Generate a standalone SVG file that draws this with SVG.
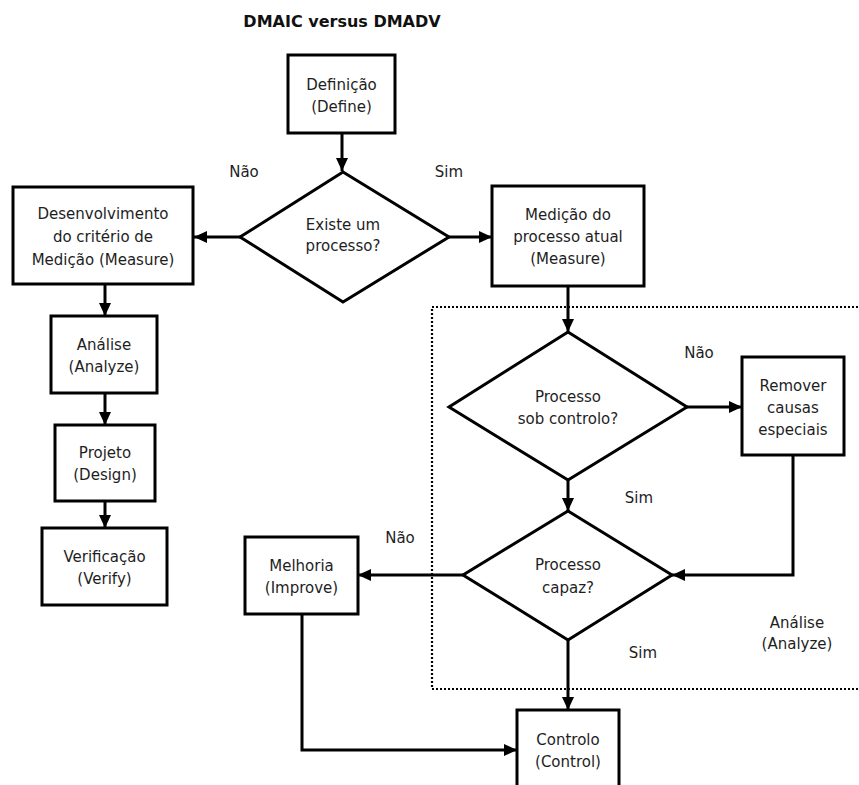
<svg xmlns="http://www.w3.org/2000/svg" width="859" height="785" viewBox="0 0 859 785">
  <defs>
    <marker id="arrow" markerUnits="userSpaceOnUse" markerWidth="14" markerHeight="12" refX="13" refY="6" orient="auto">
      <path d="M0,0 L13,6 L0,12 Z" fill="#000"/>
    </marker>
    <style>
      .box { fill: #fff; stroke: #000; stroke-width: 3; }
      .dec { fill: #fff; stroke: #000; stroke-width: 3; stroke-linejoin: miter; }
      .conn { fill: none; stroke: #000; stroke-width: 3; }
      .lbl { font-family: "DejaVu Sans", Verdana, sans-serif; font-size: 15px; fill: #1e1e1e; text-anchor: middle; }
      .title { font-family: "DejaVu Sans", Verdana, sans-serif; font-size: 16px; font-weight: bold; fill: #111; text-anchor: middle; }
      .region { fill: none; stroke: #000; stroke-width: 2.2; stroke-dasharray: 2 2; }
    </style>
  </defs>
  <rect width="859" height="785" fill="#fff"/>

  <text class="title" x="342" y="27">DMAIC versus DMADV</text>

  <!-- Analyze phase boundary -->
  <rect id="analyze-region" class="region" x="432" y="307" width="450" height="382"/>
  <g id="analyze-caption">
    <text class="lbl" x="797" y="628">Análise</text>
    <text class="lbl" x="797" y="649">(Analyze)</text>
  </g>

  <!-- connectors -->
  <g id="connectors">
    <path class="conn" d="M342,133 V171" marker-end="url(#arrow)"/>
    <path class="conn" d="M240,237 H194" marker-end="url(#arrow)"/>
    <path class="conn" d="M449,237 H492" marker-end="url(#arrow)"/>
    <path class="conn" d="M568,286 V332" marker-end="url(#arrow)"/>
    <path class="conn" d="M105,284 V316" marker-end="url(#arrow)"/>
    <path class="conn" d="M105,393 V425" marker-end="url(#arrow)"/>
    <path class="conn" d="M105,501 V528" marker-end="url(#arrow)"/>
    <path class="conn" d="M687,407 H742" marker-end="url(#arrow)"/>
    <path class="conn" d="M793,455 V575 H672" marker-end="url(#arrow)"/>
    <path class="conn" d="M568,480 V511" marker-end="url(#arrow)"/>
    <path class="conn" d="M463,575 H358" marker-end="url(#arrow)"/>
    <path class="conn" d="M568,640 V710" marker-end="url(#arrow)"/>
    <path class="conn" d="M302,614 V750 H517" marker-end="url(#arrow)"/>
  </g>

  <!-- branch labels -->
  <g id="branch-labels">
    <text class="lbl" x="244" y="177">Não</text>
    <text class="lbl" x="449" y="177">Sim</text>
    <text class="lbl" x="699" y="358">Não</text>
    <text class="lbl" x="639" y="503">Sim</text>
    <text class="lbl" x="400" y="543">Não</text>
    <text class="lbl" x="643" y="658">Sim</text>
  </g>

  <g id="define">
    <rect class="box" x="288" y="55" width="107" height="78"/>
    <text class="lbl" x="341.5" y="90">Definição</text>
    <text class="lbl" x="341.5" y="112">(Define)</text>
  </g>

  <g id="process-exists">
    <polygon class="dec" points="343,172 449,237 343,302 240,237"/>
    <text class="lbl" x="343" y="230">Existe um</text>
    <text class="lbl" x="343" y="251">processo?</text>
  </g>

  <g id="measure-criteria">
    <rect class="box" x="13" y="187" width="180" height="97"/>
    <text class="lbl" x="103" y="219">Desenvolvimento</text>
    <text class="lbl" x="103" y="242">do critério de</text>
    <text class="lbl" x="103" y="265">Medição (Measure)</text>
  </g>

  <g id="measure-current">
    <rect class="box" x="492" y="186" width="152" height="100"/>
    <text class="lbl" x="568" y="220">Medição do</text>
    <text class="lbl" x="568" y="242">processo atual</text>
    <text class="lbl" x="568" y="264">(Measure)</text>
  </g>

  <g id="analyze">
    <rect class="box" x="51" y="316" width="106" height="77"/>
    <text class="lbl" x="104" y="350">Análise</text>
    <text class="lbl" x="104" y="372">(Analyze)</text>
  </g>

  <g id="design">
    <rect class="box" x="55" y="425" width="100" height="76"/>
    <text class="lbl" x="105" y="458">Projeto</text>
    <text class="lbl" x="105" y="480">(Design)</text>
  </g>

  <g id="verify">
    <rect class="box" x="42" y="528" width="125" height="77"/>
    <text class="lbl" x="104.5" y="562">Verificação</text>
    <text class="lbl" x="104.5" y="584">(Verify)</text>
  </g>

  <g id="in-control">
    <polygon class="dec" points="568,332 687,407 568,480 449,407"/>
    <text class="lbl" x="568" y="402">Processo</text>
    <text class="lbl" x="568" y="424">sob controlo?</text>
  </g>

  <g id="remove-causes">
    <rect class="box" x="742" y="357" width="102" height="98"/>
    <text class="lbl" x="793" y="391">Remover</text>
    <text class="lbl" x="793" y="413">causas</text>
    <text class="lbl" x="793" y="435">especiais</text>
  </g>

  <g id="capable">
    <polygon class="dec" points="568,511 672,575 568,640 463,575"/>
    <text class="lbl" x="568" y="570">Processo</text>
    <text class="lbl" x="568" y="593">capaz?</text>
  </g>

  <g id="improve">
    <rect class="box" x="245" y="537" width="113" height="77"/>
    <text class="lbl" x="301.5" y="571">Melhoria</text>
    <text class="lbl" x="301.5" y="593">(Improve)</text>
  </g>

  <g id="control">
    <rect class="box" x="517" y="710" width="102" height="95"/>
    <text class="lbl" x="568" y="745">Controlo</text>
    <text class="lbl" x="568" y="767">(Control)</text>
  </g>
</svg>
